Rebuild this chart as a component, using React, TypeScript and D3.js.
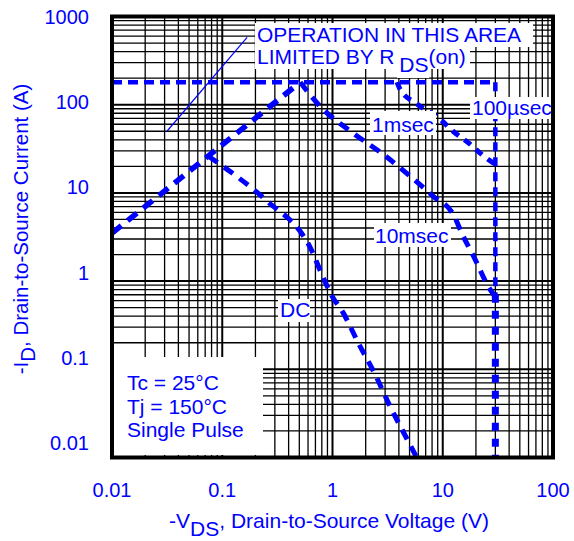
import React from "react";
import * as d3 from "d3";

// ---- data (V in volts, I in amps) ----
const xTicks = [0.01, 0.1, 1, 10, 100];
const xTickLabels = ["0.01", "0.1", "1", "10", "100"];
const yTicks = [1000, 100, 10, 1, 0.1, 0.01];
const yTickLabels = ["1000", "100", "10", "1", "0.1", "0.01"];

const rdsLimit: [number, number][] = [[0.01, 3.5], [0.51, 180]];
const currentLimit: [number, number][] = [[0.01, 180], [30, 180]];
const voltageLimit: [number, number][] = [[30, 180], [30, 0.7]];
const voltageTail: [number, number][] = [[30, 0.7], [30, 0.01]];
const curve100us: [number, number][] = [
  [3.85, 180], [4.1, 150], [5.84, 102], [9.44, 68.6], [12.4, 50], [17.7, 35.7], [21.8, 28.3], [30, 21],
];
const curve1ms: [number, number][] = [
  [0.51, 180], [0.77, 96], [1.44, 50.4], [2.87, 27.5], [5.05, 15.5], [8.16, 9.2], [12.4, 5.75],
  [15.3, 3.24], [19.6, 1.78], [25.7, 0.88], [30, 0.66],
];
const curveDC: [number, number][] = [
  [0.075, 26], [0.11, 18.6], [0.206, 10.2], [0.289, 7.07], [0.386, 5.32], [0.507, 3.69],
  [0.625, 2.43], [0.82, 1.11], [0.99, 0.676], [1.24, 0.445], [1.7, 0.203], [2.43, 0.088],
  [3.32, 0.0383], [4.74, 0.0162], [5.8, 0.01],
];
const pointer: [number, number][] = [[0.0315, 50], [0.168, 580]];

const BLUE = "#0000ff";
const FONT = "'Liberation Sans', Arial, Helvetica, sans-serif";

export default function App() {
  const W = 574, H = 541;
  const x = d3.scaleLog().domain([0.01, 100]).range([112, 553]);
  const y = d3.scaleLog().domain([0.01, 1000]).range([457.5, 16.5]);
  const yLab = d3.scaleLog().domain([0.01, 1000]).range([450, 24]);

  const xGrid: number[] = [];
  [0.01, 0.1, 1, 10].forEach((d) => { for (let m = 1; m <= 9; m++) xGrid.push(d * m); });
  xGrid.push(100);
  const yGrid: number[] = [];
  [0.01, 0.1, 1, 10, 100].forEach((d) => { for (let m = 1; m <= 9; m++) yGrid.push(d * m); });
  yGrid.push(1000);
  const isDecade = (v: number) => Math.abs(Math.log10(v) - Math.round(Math.log10(v))) < 1e-9;

  const line = d3.line<[number, number]>().x((d) => x(d[0])).y((d) => y(d[1])).curve(d3.curveMonotoneX);
  const straight = d3.line<[number, number]>().x((d) => x(d[0])).y((d) => y(d[1]));

  return (
    <svg width={W} height={H} style={{ position: "absolute", left: 0, top: 0, background: "#fff" }} fontFamily={FONT}>
      {/* grid */}
      {xGrid.map((v, i) => (
        <line key={"xg" + i} x1={x(v)} x2={x(v)} y1={y(1000)} y2={y(0.01)} stroke="#000" strokeWidth={isDecade(v) ? 2 : 1.3} />
      ))}
      {yGrid.map((v, i) => (
        <line key={"yg" + i} x1={x(0.01)} x2={x(100)} y1={y(v)} y2={y(v)} stroke="#000" strokeWidth={isDecade(v) ? 2 : 1.3} />
      ))}

      {/* curves */}
      <g fill="none" stroke={BLUE}>
        <path d={straight(pointer) || ""} strokeWidth={1.2} />
        <path d={straight(currentLimit) || ""} strokeWidth={4.5} strokeDasharray="10 6" />
        <path d={straight(voltageLimit) || ""} strokeWidth={4.5} strokeDasharray="9 6" />
        <path d={straight(voltageTail) || ""} strokeWidth={7} strokeDasharray="8 8" />
        <path d={straight(rdsLimit) || ""} strokeWidth={5.5} strokeDasharray="12 8" />
        <path d={line(curve100us) || ""} strokeWidth={5} strokeDasharray="8 7" />
        <path d={line(curve1ms) || ""} strokeWidth={5} strokeDasharray="11 8" />
        <path d={line(curveDC) || ""} strokeWidth={5} strokeDasharray="11 8" />
      </g>

      {/* label boxes */}
      <g fill="#fff">
        <rect x={255} y={23} width={278} height={24} />
        <rect x={255} y={47} width={215} height={22} />
        <rect x={397} y={60} width={32} height={18} />
        <rect x={370} y={111} width={66} height={24} />
        <rect x={470} y={97} width={83} height={22} />
        <rect x={374} y={223} width={77} height={24} />
        <rect x={278} y={299} width={32} height={23} />
        <rect x={114} y={357} width={149} height={98} />
      </g>

      {/* frame */}
      <rect x={112} y={16.5} width={441} height={441} fill="none" stroke="#000" strokeWidth={4} />

      {/* annotations */}
      <g fill={BLUE} fontSize={21}>
        <text x={257} y={42}>OPERATION IN THIS AREA</text>
        <text x={257} y={64}>LIMITED BY R<tspan dx={5} dy={8}>DS</tspan><tspan dy={-8}>(on)</tspan></text>
        <text x={372} y={132}>1msec</text>
        <text x={472} y={115}>100µsec</text>
        <text x={375} y={243}>10msec</text>
        <text x={280} y={317}>DC</text>
        <text x={127} y={390}>Tc = 25°C</text>
        <text x={127} y={413.5}>Tj = 150°C</text>
        <text x={127} y={437}>Single Pulse</text>
      </g>

      {/* tick labels */}
      <g fill={BLUE} fontSize={20}>
        {yTicks.map((v, i) => (
          <text key={"yl" + i} x={89} y={yLab(v)} textAnchor="end">{yTickLabels[i]}</text>
        ))}
        {xTicks.map((v, i) => (
          <text key={"xl" + i} x={x(v)} y={497} textAnchor="middle">{xTickLabels[i]}</text>
        ))}
      </g>

      {/* axis titles */}
      <text x={329} y={528} fill={BLUE} fontSize={21} textAnchor="middle">
        -V<tspan dy={8}>DS</tspan><tspan dy={-8}>, Drain-to-Source Voltage (V)</tspan>
      </text>
      <text transform="translate(28,229) rotate(-90)" fill={BLUE} fontSize={20.5} textAnchor="middle">
        -I<tspan dy={7}>D</tspan><tspan dy={-7}>,  Drain-to-Source Current (A)</tspan>
      </text>
    </svg>
  );
}
